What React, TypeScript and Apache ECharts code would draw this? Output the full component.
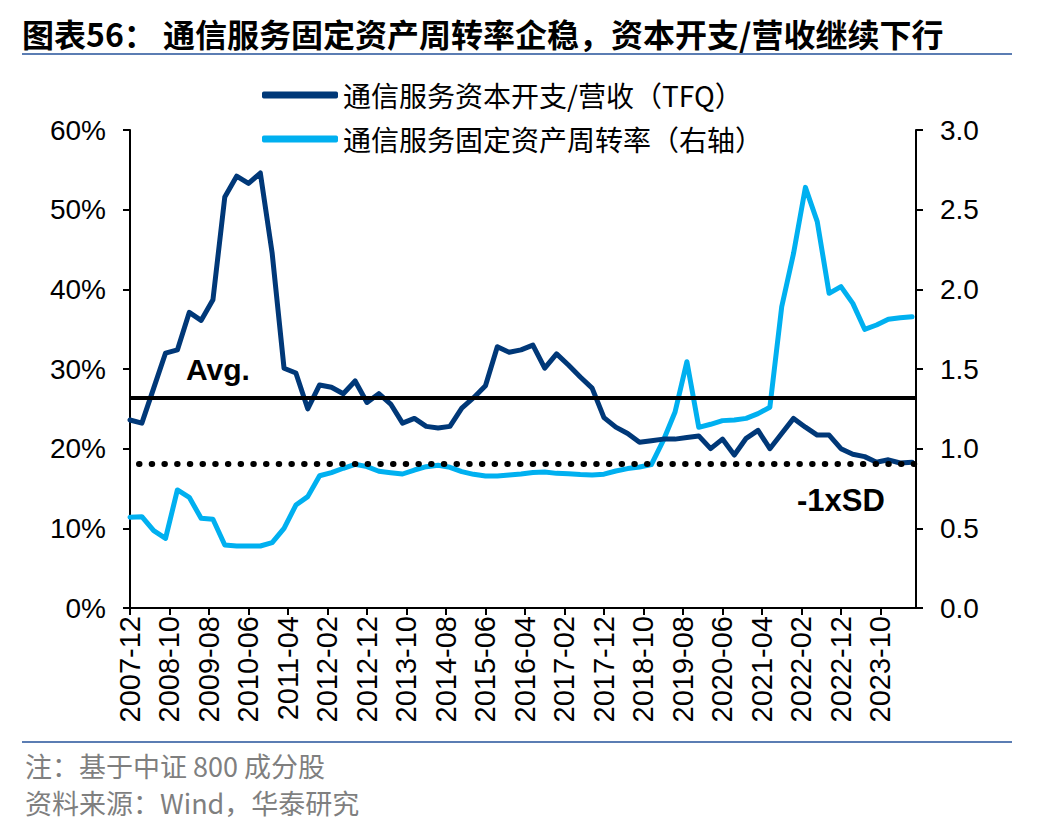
import React, { useEffect, useRef } from "react";
import * as echarts from "echarts";

// ---- data ----
const START_YEAR = 2007;
const START_MONTH = 12;
const MONTH_COUNT = 200; // 2007-12 .. 2024-07 (monthly category axis)

// quarterly values, 2007-12 .. 2024-06
const capexRatio: number[] = [
  23.6, 23.2, 27.6, 32.0, 32.4, 37.1, 36.1, 38.7, 51.6, 54.2, 53.3, 54.6, 44.5,
  30.1, 29.5, 25.0, 28.0, 27.7, 26.9, 28.5, 25.8, 26.9, 25.6, 23.2, 23.8, 22.8,
  22.6, 22.8, 25.1, 26.4, 27.9, 32.8, 32.1, 32.4, 33.0, 30.1, 31.9, 30.5, 29.0,
  27.6, 23.9, 22.7, 21.9, 20.8, 21.0, 21.2, 21.2, 21.4, 21.6, 20.0, 21.2, 19.2,
  21.3, 22.3, 20.0, 21.9, 23.8, 22.7, 21.7, 21.7, 20.0, 19.3, 19.0, 18.3, 18.6,
  18.2, 18.3,
];
const assetTurnover: number[] = [
  0.57, 0.573, 0.485, 0.437, 0.741, 0.695, 0.563, 0.557, 0.395, 0.389, 0.389,
  0.389, 0.41, 0.5, 0.646, 0.699, 0.83, 0.85, 0.877, 0.902, 0.887, 0.858, 0.849,
  0.841, 0.866, 0.887, 0.896, 0.883, 0.856, 0.839, 0.828, 0.828, 0.835, 0.841,
  0.85, 0.853, 0.845, 0.843, 0.838, 0.835, 0.84, 0.86, 0.875, 0.885, 0.9, 1.05,
  1.23, 1.546, 1.134, 1.153, 1.176, 1.18, 1.19, 1.22, 1.26, 1.891, 2.226, 2.64,
  2.425, 1.975, 2.017, 1.912, 1.749, 1.776, 1.812, 1.822, 1.828,
];
const AVG = 26.4;
const MINUS_SD = 18.1;

const SERIES_CAPEX = "通信服务资本开支/营收（TFQ）";
const SERIES_TURNOVER = "通信服务固定资产周转率（右轴）";
const TITLE = "图表56： 通信服务固定资产周转率企稳，资本开支/营收继续下行";
const NOTE = "注：基于中证 800 成分股";
const SOURCE = "资料来源：Wind，华泰研究";

const months: string[] = Array.from({ length: MONTH_COUNT }, (_, i) => {
  const m0 = START_MONTH - 1 + i;
  const y = START_YEAR + Math.floor(m0 / 12);
  const m = (m0 % 12) + 1;
  return `${y}-${String(m).padStart(2, "0")}`;
});

const toMonthly = (q: number[]) =>
  months.map((_, i) => (i % 3 === 0 && q[i / 3] !== undefined ? q[i / 3] : null));

const LATIN = '"Liberation Sans", Arial, "Noto Sans CJK SC", sans-serif';
const CJK = '"Noto Sans CJK SC", "Liberation Sans", sans-serif';
const DARK = "#003878";
const LIGHT = "#00B0F0";

export default function App() {
  const ref = useRef<HTMLDivElement>(null);
  useEffect(() => {
    if (!ref.current) return;
    const chart = echarts.init(ref.current, undefined, { renderer: "svg" });
    const option: any = {
      animation: false,
      backgroundColor: "#ffffff",
      textStyle: { fontFamily: LATIN },
      grid: { left: 130, right: 132, top: 130, bottom: 224, containLabel: false },
      legend: {
        orient: "vertical",
        left: 262,
        top: 81,
        padding: 0,
        itemWidth: 76,
        itemHeight: 7,
        itemGap: 16,
        icon: "roundRect",
        textStyle: { fontFamily: CJK, fontSize: 28, color: "#000" },
        data: [SERIES_CAPEX, SERIES_TURNOVER],
      },
      xAxis: {
        type: "category",
        data: months,
        boundaryGap: false,
        axisLine: { lineStyle: { color: "#000", width: 2 } },
        axisTick: { interval: 9, length: 7, lineStyle: { color: "#000", width: 2 } },
        axisLabel: {
          interval: 9,
          rotate: 90,
          margin: 8,
          fontSize: 29,
          color: "#000",
          fontFamily: LATIN,
        },
      },
      yAxis: [
        {
          type: "value",
          min: 0,
          max: 60,
          interval: 10,
          position: "left",
          axisLine: { show: true, lineStyle: { color: "#000", width: 2 } },
          axisTick: { show: true, length: 7, lineStyle: { color: "#000", width: 2 } },
          splitLine: { show: false },
          axisLabel: { formatter: "{value}%", fontSize: 28, margin: 24, color: "#000", fontFamily: LATIN },
        },
        {
          type: "value",
          min: 0,
          max: 3,
          interval: 0.5,
          position: "right",
          axisLine: { show: true, lineStyle: { color: "#000", width: 2 } },
          axisTick: { show: true, length: 7, lineStyle: { color: "#000", width: 2 } },
          splitLine: { show: false },
          axisLabel: {
            formatter: (v: number) => v.toFixed(1),
            fontSize: 28,
            margin: 24,
            color: "#000",
            fontFamily: LATIN,
          },
        },
      ],
      series: [
        {
          name: SERIES_CAPEX,
          type: "line",
          yAxisIndex: 0,
          data: toMonthly(capexRatio),
          connectNulls: true,
          symbol: "none",
          color: DARK,
          lineStyle: { color: DARK, width: 5, cap: "round", join: "round" },
          z: 3,
          markLine: {
            silent: true,
            symbol: ["none", "none"],
            label: { show: false },
            data: [
              { yAxis: AVG, lineStyle: { color: "#000", width: 4, type: "solid" } },
              {
                yAxis: MINUS_SD,
                lineStyle: { color: "#000", width: 6, type: [0.5, 12.2], cap: "round", dashOffset: -9 },
              },
            ],
          },
        },
        {
          name: SERIES_TURNOVER,
          type: "line",
          yAxisIndex: 1,
          data: toMonthly(assetTurnover),
          connectNulls: true,
          symbol: "none",
          color: LIGHT,
          lineStyle: { color: LIGHT, width: 5, cap: "round", join: "round" },
          z: 2,
        },
      ],
      graphic: [
        {
          type: "text",
          left: 22,
          top: 17,
          style: { text: TITLE, fontFamily: CJK, fontWeight: "bold", fontSize: 32, fill: "#000" },
        },
        {
          type: "line",
          shape: { x1: 22, y1: 54, x2: 1012, y2: 54 },
          style: { stroke: "#5b7db3", lineWidth: 2 },
        },
        {
          type: "line",
          shape: { x1: 22, y1: 742, x2: 1012, y2: 742 },
          style: { stroke: "#5b7db3", lineWidth: 2 },
        },
        {
          type: "text",
          left: 25,
          top: 752,
          style: { text: NOTE, fontFamily: CJK, fontSize: 27, fill: "#7f7f7f" },
        },
        {
          type: "text",
          left: 25,
          top: 789,
          style: { text: SOURCE, fontFamily: CJK, fontSize: 27, fill: "#7f7f7f" },
        },
        {
          type: "text",
          x: 186,
          y: 369,
          style: { text: "Avg.", fontFamily: LATIN, fontWeight: "bold", fontSize: 30, fill: "#000", verticalAlign: "middle" },
        },
        {
          type: "text",
          x: 797,
          y: 500,
          style: { text: "-1xSD", fontFamily: LATIN, fontWeight: "bold", fontSize: 31, fill: "#000", verticalAlign: "middle" },
        },
      ],
    };
    chart.setOption(option);
    return () => chart.dispose();
  }, []);
  return (
    <div
      ref={ref}
      style={{ position: "fixed", left: 0, top: 0, width: 1048, height: 832, background: "#fff" }}
    />
  );
}
